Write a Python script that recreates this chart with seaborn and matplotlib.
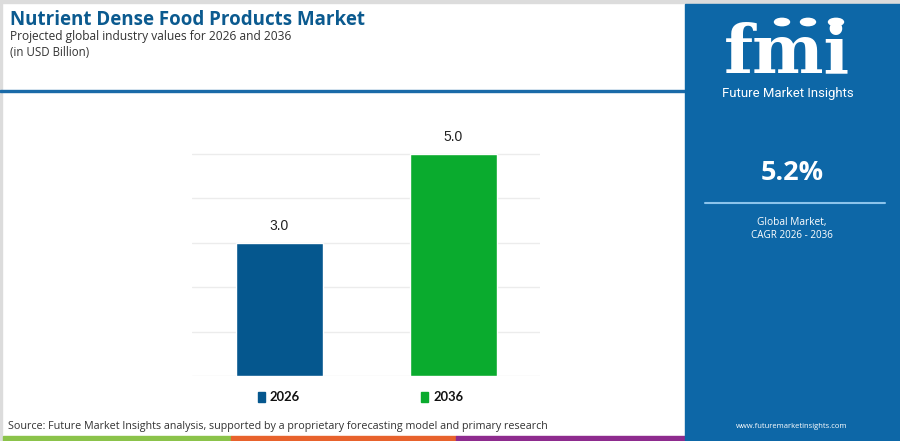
import matplotlib
matplotlib.use("Agg")
import matplotlib.pyplot as plt
from matplotlib.patches import Rectangle, Circle
from matplotlib.lines import Line2D
import seaborn as sns
import pandas as pd

# ---------------- data ----------------
years = ["2026", "2036"]
values = [3.0, 5.0]
bar_colors = ["#05578e", "#0aab2e"]
title = "Nutrient Dense Food Products Market"
subtitle = "Projected global industry values for 2026 and 2036"
unit = "(in USD Billion)"
cagr = "5.2%"
cagr_label = ["Global Market,", "CAGR 2026 - 2036"]
source = "Source: Future Market Insights analysis, supported by a proprietary forecasting model and primary research"
brand = "Future Market Insights"
site = "www.futuremarketinsights.com"

W, H = 900, 441
sns.set_theme(style="white")
plt.rcParams['font.family'] = ['Open Sans', 'DejaVu Sans']

fig = plt.figure(figsize=(W / 100, H / 100), dpi=100)
fig.patch.set_facecolor("white")


def fx(x):
    return x / W


def fy(y):
    return 1 - y / H


renderer = fig.canvas.get_renderer()


def fit(t, w_px):
    bb = t.get_window_extent(renderer)
    t.set_fontsize(t.get_fontsize() * w_px / bb.width)
    return t


# ---------------- chart ----------------
ax = fig.add_axes([fx(192), fy(376), fx(540) - fx(192), fy(130) - fy(376)])
df = pd.DataFrame({"year": years, "value": values})
sns.barplot(data=df, x="year", y="value", hue="year", palette=bar_colors,
            width=0.5, legend=False, ax=ax, saturation=1)
ax.set_xlim(-0.5, 1.5)
ax.set_ylim(0, 5.53)
ax.set_yticks([0, 1, 2, 3, 4, 5])
ax.yaxis.grid(True, color="#ececec", linewidth=1)
ax.set_axisbelow(True)
ax.tick_params(left=False, bottom=False, labelleft=False, labelbottom=False)
ax.set_xlabel("")
ax.set_ylabel("")
for s in ax.spines.values():
    s.set_visible(False)
for i, v in enumerate(values):
    ax.annotate(f"{v:.1f}", (i, v), xytext=(0, 7), textcoords="offset points",
                ha="center", va="bottom", fontsize=10, color="#222222",
                family=["Liberation Sans", "DejaVu Sans"])

# legend
leg_x = [258, 421]
for lx, yr, c in zip(leg_x, years, bar_colors):
    fig.patches.append(Rectangle((fx(lx), fy(402)), fx(7), 10 / H, color=c,
                                 transform=fig.transFigure, figure=fig))
    t = fig.text(fx(lx + 12), fy(397), yr, fontsize=10.5, fontweight="bold",
                 color="#111111", va="center", ha="left",
                 family=["Lato", "DejaVu Sans"])
    fit(t, 30)

# ---------------- header ----------------
fig.patches.append(Rectangle((0, fy(3)), 1, 3 / H, color="#dcdcdc",
                             transform=fig.transFigure, figure=fig))
fig.patches.append(Rectangle((0, 0), fx(2), 1, color="#dcdcdc",
                             transform=fig.transFigure, figure=fig))
t = fig.text(fx(10), fy(25), title, fontsize=15, fontweight="bold",
             color="#0b5a8f", va="baseline", ha="left")
fit(t, 356)
t = fig.text(fx(10), fy(40), subtitle, fontsize=10, color="#333333",
             va="baseline", ha="left")
fit(t, 282)
t = fig.text(fx(10), fy(56), unit, fontsize=10, color="#333333",
             va="baseline", ha="left")
fit(t, 79)
fig.patches.append(Rectangle((0, fy(92)), fx(685), 2 / H, color="#1a6aa8",
                             transform=fig.transFigure, figure=fig))

# ---------------- source + colour strip ----------------
t = fig.text(fx(8), fy(429), source, fontsize=8.5, color="#333333",
             va="baseline", ha="left")
fit(t, 537)
for x0, x1, c in [(3, 231, "#8bc34a"), (231, 456, "#e8622c"), (456, 686, "#8e2b8e")]:
    fig.patches.append(Rectangle((fx(x0), 0), fx(x1 - x0), 5 / H, color=c,
                                 transform=fig.transFigure, figure=fig))

# ---------------- right panel ----------------
panel_blue = "#0d67a7"
fig.patches.append(Rectangle((fx(685), 0), fx(W - 685), fy(4), color=panel_blue,
                             transform=fig.transFigure, figure=fig))
t = fig.text(fx(787), fy(86), "fmi", fontsize=40, fontweight="bold",
             color="white", va="bottom", ha="center",
             family=["DejaVu Serif"])
fit(t, 126)
# stripes over the logo letters
for yy in range(32, 76, 4):
    fig.lines.append(Line2D([fx(718), fx(858)], [fy(yy), fy(yy)], color=panel_blue,
                            linewidth=0.8, transform=fig.transFigure, figure=fig))
for cx in [782, 808, 836]:
    fig.patches.append(Circle((fx(cx), fy(22)), 7.5 / W, color="white",
                              transform=fig.transFigure, figure=fig))
t = fig.text(fx(788), fy(97), brand, fontsize=9.5, color="white",
             va="baseline", ha="center", family=["Roboto", "DejaVu Sans"])
fit(t, 131)
t = fig.text(fx(792), fy(180), cagr, fontsize=18, fontweight="bold",
             color="white", va="baseline", ha="center")
fit(t, 63)
fig.lines.append(Line2D([fx(705), fx(885)], [fy(203), fy(203)], color="#8cc4ec",
                        linewidth=1.5, transform=fig.transFigure, figure=fig))
t = fig.text(fx(792), fy(225), cagr_label[0], fontsize=7.5, color="white",
             va="baseline", ha="center")
fit(t, 69)
t = fig.text(fx(792), fy(238), cagr_label[1], fontsize=7.5, color="white",
             va="baseline", ha="center")
fit(t, 82)
t = fig.text(fx(792), fy(428), site, fontsize=6.5, color="white",
             va="baseline", ha="center")
fit(t, 112)

fig.savefig("out.png", dpi=100, facecolor="white")
